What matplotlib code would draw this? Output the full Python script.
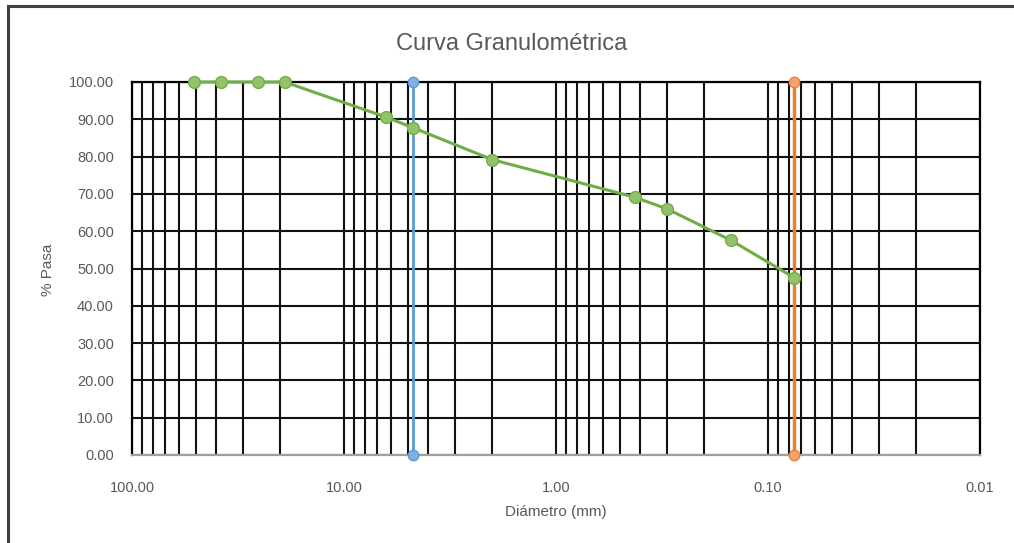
import matplotlib.pyplot as plt
from matplotlib.patches import Rectangle
from matplotlib.ticker import FixedLocator, FuncFormatter
import numpy as np

# Tamices (mm) y porcentaje que pasa
diametro = [50.8, 38.1, 25.4, 19.05, 6.35, 4.75, 2.00, 0.425, 0.30, 0.15, 0.075]
pasa = [100.0, 100.0, 100.0, 100.0, 90.6, 87.8, 79.2, 69.1, 66.0, 57.6, 47.5]

# Lineas de referencia: tamiz N°4 y N°200
d_n4 = [4.75, 4.75]
d_n200 = [0.075, 0.075]
y_ref = [0.0, 100.0]

plt.rcParams['font.family'] = ['Liberation Sans Narrow', 'Liberation Sans', 'DejaVu Sans']

fig = plt.figure(figsize=(10.14, 5.43), dpi=100)
W, H = 1014, 543
ax = fig.add_axes([132 / W, 1 - 455 / H, (980 - 132) / W, (455 - 82) / H])

# marco exterior
fig.patches.append(Rectangle((8 / W, -0.1), 1.2, 1 - 6 / H + 0.1, transform=fig.transFigure,
                             fill=False, edgecolor='#404040', linewidth=2.2))

ax.set_xscale('log')
ax.set_xlim(100, 0.01)
ax.set_ylim(0, 100)

major = [100, 10, 1, 0.1, 0.01]
minor = [m * 10.0 ** e for e in range(-2, 2) for m in range(2, 10)]
ax.xaxis.set_major_locator(FixedLocator(major))
ax.xaxis.set_minor_locator(FixedLocator(minor))
ax.xaxis.set_minor_formatter(FuncFormatter(lambda v, p: ''))
ax.xaxis.set_major_formatter(FuncFormatter(lambda v, p: '0.01' if v < 0.05 else f'{v:.2f}'))
ax.set_yticks(np.arange(0, 101, 10))
ax.yaxis.set_major_formatter(FuncFormatter(lambda v, p: f'{v:.2f}'))

ax.grid(True, which='both', axis='x', color='#111111', linewidth=1.5)
ax.grid(True, which='major', axis='y', color='#111111', linewidth=1.5)
ax.tick_params(which='both', length=0, labelsize=10.5, colors='#595959')
ax.tick_params(axis='x', pad=19)
ax.tick_params(axis='y', pad=13)
for s in ax.spines.values():
    s.set_color('black')
    s.set_linewidth(1.6)
ax.spines['bottom'].set_color('#a0a0a0')

ax.plot(d_n4, y_ref, color='#5B9BD5', linewidth=2, marker='o', markersize=7.5,
        markerfacecolor='#7FB2E0', markeredgecolor='#5B9BD5', zorder=4, clip_on=False)
ax.plot(d_n200, y_ref, color='#ED7D31', linewidth=2.5, marker='o', markersize=7.5,
        markerfacecolor='#F4A46E', markeredgecolor='#ED7D31', zorder=4, clip_on=False)
ax.plot(diametro, pasa, color='#70AD47', linewidth=2.2, marker='o', markersize=8.5,
        markerfacecolor='#92C36C', markeredgecolor='#70AD47', zorder=5, clip_on=False)

fig.text(512 / W, 1 - 44 / H, 'Curva Granulométrica', ha='center', va='center',
         fontsize=17, color='#595959')
fig.text(48 / W, 1 - 270 / H, '% Pasa', ha='center', va='center', rotation=90,
         fontsize=11, color='#595959')
fig.text(556 / W, 1 - 512 / H, 'Diámetro (mm)', ha='center', va='center',
         fontsize=11, color='#595959')

fig.savefig('out.png', dpi=100)
